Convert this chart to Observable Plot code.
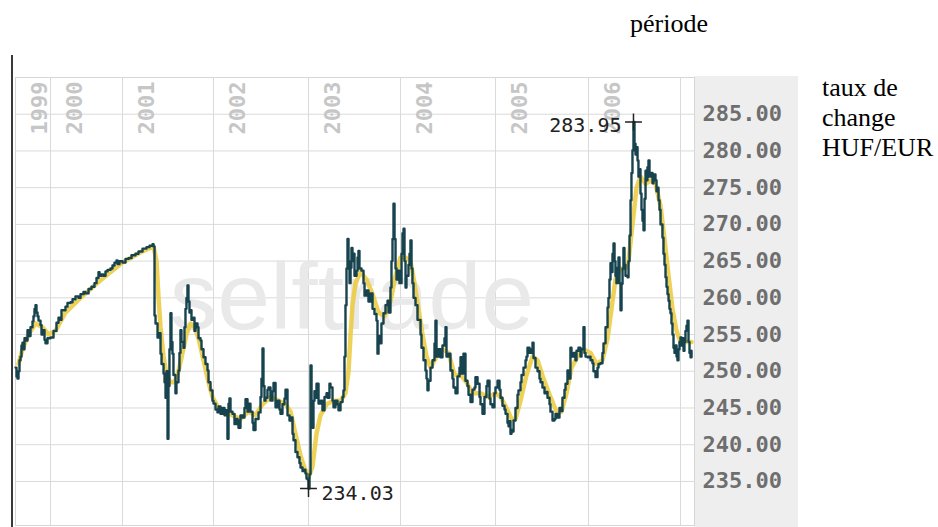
<!DOCTYPE html>
<html><head><meta charset="utf-8">
<script src="https://cdn.jsdelivr.net/npm/d3@7"></script>
<script src="https://cdn.jsdelivr.net/npm/@observablehq/plot@0.6"></script>
<style>
body{margin:0;background:#fff;}
#wrap{position:relative;width:938px;height:527px;overflow:hidden;}
#wrap svg{position:absolute;left:0;top:0;}
.lab{position:absolute;font-family:"Liberation Serif","Times New Roman",serif;font-size:26px;color:#000;line-height:30px;white-space:nowrap;}
</style></head><body>
<div id="wrap"></div>
<script>
// ---- data ----
const xTitle = "période";
const yTitle = ["taux de", "change", "HUF/EUR"];
const watermark = "selftrade";
const yearBreaks = [1999, 2000, 2001, 2002, 2003, 2004, 2005, 2006, 2007];
const yearLabels = [1999, 2000, 2001, 2002, 2003, 2004, 2005, 2006];
const yearGrid = [2000, 2001, 2002, 2003, 2004, 2005, 2006, 2007];
const yTicks = [235, 240, 245, 250, 255, 260, 265, 270, 275, 280, 285];
const yGrid = [235, 240, 245, 250, 255, 260, 265, 270, 275, 280, 285, 290];
const extremeT = [2006.489, 2003.000];
const extremeV = [283.95, 234.03];

// daily HUF/EUR rate [decimal year, rate]
const daily = [
[1999.000,250.5],[1999.029,249.3],[1999.057,249.0],[1999.086,250.0],[1999.114,251.5],[1999.143,252.0],[1999.171,253.5],[1999.200,253.9],[1999.229,253.0],[1999.257,254.5],[1999.286,254.2],[1999.343,255.6],[1999.371,254.8],[1999.429,256.0],[1999.486,256.8],[1999.514,257.5],[1999.543,258.5],[1999.571,259.0],[1999.600,258.0],[1999.629,257.5],[1999.657,256.9],[1999.714,256.3],[1999.743,255.0],[1999.771,255.6],[1999.829,254.3],[1999.857,253.8],[1999.914,254.5],
[2000.000,254.6],[2000.042,255.5],[2000.083,256.6],[2000.111,257.3],[2000.139,257.0],[2000.153,258.3],[2000.181,258.3],[2000.208,258.8],[2000.236,259.3],[2000.278,259.4],[2000.306,259.8],[2000.347,260.2],[2000.389,260.0],[2000.417,260.5],[2000.458,260.8],[2000.486,260.6],[2000.528,261.2],[2000.569,261.5],[2000.611,262.0],[2000.639,262.7],[2000.667,263.5],[2000.681,263.0],[2000.708,263.2],[2000.736,263.0],[2000.764,263.6],[2000.792,263.8],[2000.833,264.0],[2000.861,264.4],[2000.889,264.8],[2000.917,265.1],[2000.931,264.6],[2000.958,265.0],
[2001.000,264.8],[2001.033,265.3],[2001.066,265.4],[2001.099,265.8],[2001.143,266.0],[2001.176,266.3],[2001.220,266.7],[2001.264,266.9],[2001.297,267.1],[2001.330,267.3],[2001.341,267.0],[2001.352,257.6],[2001.363,256.5],[2001.385,254.6],[2001.396,255.2],[2001.418,252.4],[2001.429,251.0],[2001.451,249.7],[2001.462,248.5],[2001.473,246.4],[2001.484,250.0],[2001.495,240.8],[2001.505,248.0],[2001.516,253.0],[2001.527,257.9],[2001.538,254.0],[2001.549,252.4],[2001.560,249.5],[2001.582,247.0],[2001.593,248.5],[2001.615,250.1],[2001.626,252.5],[2001.637,255.6],[2001.648,254.0],[2001.670,253.2],[2001.681,256.0],[2001.692,258.5],[2001.703,260.0],[2001.714,261.7],[2001.725,259.5],[2001.736,258.0],[2001.747,258.3],[2001.758,257.0],[2001.780,257.3],[2001.791,255.5],[2001.802,256.5],[2001.824,256.0],[2001.835,254.5],[2001.857,254.2],[2001.868,253.0],[2001.890,251.9],[2001.912,251.0],[2001.934,250.1],[2001.945,248.5],[2001.967,247.4],[2001.989,246.0],
[2002.000,245.6],[2002.021,244.8],[2002.042,244.4],[2002.053,245.2],[2002.074,244.2],[2002.095,245.0],[2002.116,244.0],[2002.126,244.7],[2002.147,240.8],[2002.158,245.6],[2002.168,246.3],[2002.179,244.5],[2002.200,244.2],[2002.221,242.8],[2002.242,243.5],[2002.253,243.3],[2002.263,242.3],[2002.284,244.0],[2002.305,243.7],[2002.326,245.0],[2002.337,246.2],[2002.358,244.5],[2002.368,245.6],[2002.389,244.5],[2002.411,243.0],[2002.421,242.0],[2002.442,243.5],[2002.474,244.4],[2002.495,246.5],[2002.505,249.0],[2002.516,253.1],[2002.526,248.0],[2002.537,246.0],[2002.547,246.4],[2002.568,247.5],[2002.579,247.8],[2002.600,246.0],[2002.621,247.3],[2002.632,248.4],[2002.653,245.1],[2002.674,246.0],[2002.695,244.8],[2002.705,244.2],[2002.726,245.5],[2002.747,246.3],[2002.758,247.5],[2002.779,244.0],[2002.800,243.3],[2002.811,243.7],[2002.832,241.5],[2002.842,240.6],[2002.863,239.0],[2002.884,238.3],[2002.905,237.5],[2002.916,236.9],[2002.937,236.4],[2002.958,236.6],[2002.968,236.1],[2002.979,235.4],[2002.989,235.3],
[2003.000,234.03],[2003.011,236.0],[2003.022,250.8],[2003.033,244.0],[2003.043,242.3],[2003.054,246.0],[2003.065,247.3],[2003.076,246.4],[2003.087,248.3],[2003.109,245.6],[2003.130,246.0],[2003.152,244.7],[2003.174,246.5],[2003.196,247.0],[2003.207,246.4],[2003.228,248.3],[2003.239,247.8],[2003.261,246.0],[2003.272,245.1],[2003.293,246.0],[2003.315,245.5],[2003.326,244.7],[2003.348,245.8],[2003.370,246.5],[2003.380,247.4],[2003.391,252.0],[2003.402,259.0],[2003.413,264.0],[2003.424,268.0],[2003.435,265.0],[2003.446,262.0],[2003.457,264.1],[2003.467,266.8],[2003.478,265.0],[2003.489,266.0],[2003.500,263.0],[2003.522,263.7],[2003.533,265.5],[2003.543,266.4],[2003.554,264.0],[2003.576,263.7],[2003.598,262.0],[2003.609,260.3],[2003.630,261.0],[2003.652,259.5],[2003.674,260.6],[2003.696,258.5],[2003.717,257.8],[2003.739,256.9],[2003.750,252.4],[2003.761,254.8],[2003.783,253.8],[2003.793,256.5],[2003.815,257.9],[2003.837,259.0],[2003.859,259.6],[2003.870,258.0],[2003.891,261.4],[2003.902,265.0],[2003.913,268.0],[2003.924,272.8],[2003.935,268.0],[2003.946,264.0],[2003.957,262.5],[2003.978,263.7],[2003.989,262.0],
[2004.011,266.0],[2004.021,268.8],[2004.032,269.4],[2004.042,265.0],[2004.053,261.4],[2004.063,263.0],[2004.084,264.5],[2004.095,266.0],[2004.105,267.8],[2004.116,264.0],[2004.126,262.0],[2004.137,260.0],[2004.158,259.0],[2004.179,257.0],[2004.211,255.0],[2004.221,253.2],[2004.242,251.5],[2004.263,250.1],[2004.274,249.0],[2004.284,247.4],[2004.295,248.7],[2004.316,250.5],[2004.337,251.5],[2004.358,253.8],[2004.368,256.9],[2004.379,252.0],[2004.400,253.0],[2004.421,251.9],[2004.442,253.5],[2004.463,254.5],[2004.474,256.0],[2004.484,252.0],[2004.505,252.4],[2004.526,250.1],[2004.547,249.0],[2004.558,247.8],[2004.579,247.0],[2004.600,249.3],[2004.621,250.5],[2004.632,251.9],[2004.642,249.7],[2004.663,252.4],[2004.684,248.7],[2004.705,248.0],[2004.716,246.8],[2004.737,245.8],[2004.758,247.5],[2004.779,247.8],[2004.789,249.2],[2004.811,248.3],[2004.832,246.5],[2004.842,245.5],[2004.863,244.2],[2004.884,246.5],[2004.905,248.0],[2004.916,248.7],[2004.937,246.3],[2004.947,245.5],[2004.968,245.1],[2004.989,247.0],
[2005.000,247.8],[2005.022,248.7],[2005.043,247.5],[2005.054,246.4],[2005.075,245.3],[2005.097,244.8],[2005.108,244.2],[2005.129,243.0],[2005.140,242.5],[2005.151,243.2],[2005.161,241.5],[2005.172,242.0],[2005.183,241.8],[2005.194,243.3],[2005.215,245.0],[2005.237,246.8],[2005.247,247.4],[2005.269,248.5],[2005.280,249.5],[2005.301,250.5],[2005.323,251.5],[2005.333,252.0],[2005.344,253.2],[2005.366,252.5],[2005.387,253.0],[2005.398,253.9],[2005.409,251.8],[2005.430,250.5],[2005.452,250.0],[2005.473,249.0],[2005.484,248.5],[2005.505,247.8],[2005.527,247.0],[2005.548,247.2],[2005.559,246.4],[2005.581,245.5],[2005.591,244.5],[2005.613,243.3],[2005.634,243.5],[2005.645,244.2],[2005.667,243.7],[2005.688,245.0],[2005.699,244.6],[2005.720,246.4],[2005.742,247.5],[2005.753,248.3],[2005.774,250.1],[2005.785,249.0],[2005.806,253.2],[2005.817,252.0],[2005.839,252.5],[2005.860,251.5],[2005.871,252.8],[2005.892,253.2],[2005.914,252.0],[2005.925,253.0],[2005.946,256.0],[2005.957,252.5],[2005.968,252.0],[2005.989,251.9],
[2006.000,252.0],[2006.022,251.5],[2006.043,251.1],[2006.054,250.0],[2006.076,249.2],[2006.098,250.5],[2006.109,251.0],[2006.130,251.1],[2006.152,252.5],[2006.163,253.8],[2006.185,256.0],[2006.207,258.7],[2006.217,260.0],[2006.228,262.5],[2006.239,264.7],[2006.250,263.5],[2006.261,266.0],[2006.272,267.4],[2006.283,265.0],[2006.293,263.0],[2006.304,262.0],[2006.315,264.1],[2006.326,265.5],[2006.337,262.0],[2006.348,258.3],[2006.359,261.9],[2006.370,264.0],[2006.380,266.8],[2006.391,264.5],[2006.402,263.0],[2006.424,262.8],[2006.435,265.0],[2006.446,268.5],[2006.457,273.3],[2006.467,277.0],[2006.478,280.1],[2006.489,283.95],[2006.500,281.0],[2006.511,279.5],[2006.522,280.5],[2006.533,278.7],[2006.543,276.5],[2006.554,277.5],[2006.565,274.2],[2006.576,272.0],[2006.587,270.5],[2006.598,269.2],[2006.609,273.5],[2006.620,277.3],[2006.630,276.0],[2006.641,277.8],[2006.652,278.7],[2006.663,276.5],[2006.674,277.0],[2006.696,275.6],[2006.707,276.8],[2006.728,276.0],[2006.739,274.5],[2006.750,275.0],[2006.761,273.3],[2006.772,272.0],[2006.783,270.0],[2006.804,268.2],[2006.815,266.0],[2006.826,264.5],[2006.837,262.8],[2006.848,261.5],[2006.859,260.5],[2006.870,259.6],[2006.880,258.5],[2006.891,257.9],[2006.902,256.5],[2006.913,255.0],[2006.924,253.2],[2006.935,252.5],[2006.946,253.5],[2006.957,252.0],[2006.967,251.5],[2006.978,253.0],[2006.989,254.0],
[2007.000,254.6],[2007.011,253.5],[2007.022,254.5],[2007.033,252.8],[2007.043,254.0],[2007.054,255.5],[2007.065,256.2],[2007.076,256.9],[2007.087,254.0],[2007.098,252.5],[2007.109,251.9],[2007.120,252.8]
];

// moving average (yellow) [decimal year, rate]
const movingAvg = [
[1999.086,251.0],[1999.200,253.0],[1999.371,255.0],[1999.571,256.5],[1999.771,256.0],[1999.943,255.0],[2000.069,255.5],[2000.208,258.0],[2000.417,260.0],[2000.625,261.8],[2000.833,263.5],[2001.000,264.8],[2001.198,266.2],[2001.341,267.0],[2001.374,265.0],[2001.396,260.0],[2001.418,256.0],[2001.451,252.0],[2001.484,249.5],[2001.527,248.5],[2001.571,248.5],[2001.615,250.0],[2001.659,252.5],[2001.703,255.0],[2001.747,256.5],[2001.791,256.0],[2001.835,254.5],[2001.890,251.5],[2001.945,248.5],[2001.989,246.5],[2002.053,245.0],[2002.126,244.5],[2002.200,244.0],[2002.284,243.5],[2002.368,244.5],[2002.442,244.0],[2002.516,245.5],[2002.600,246.5],[2002.684,246.0],[2002.758,245.5],[2002.811,244.5],[2002.863,241.5],[2002.916,238.5],[2002.968,236.5],[2003.000,235.5],[2003.043,237.0],[2003.087,241.5],[2003.130,244.0],[2003.196,245.5],[2003.272,246.0],[2003.348,246.0],[2003.402,247.0],[2003.435,250.0],[2003.457,255.0],[2003.478,259.0],[2003.511,262.0],[2003.565,263.5],[2003.630,262.5],[2003.696,260.5],[2003.761,258.0],[2003.826,257.5],[2003.891,259.5],[2003.946,263.0],[2004.000,265.5],[2004.053,265.5],[2004.105,265.0],[2004.147,262.0],[2004.189,258.5],[2004.232,255.0],[2004.274,252.0],[2004.316,250.5],[2004.379,252.0],[2004.442,253.0],[2004.505,252.5],[2004.568,249.5],[2004.632,249.5],[2004.695,248.5],[2004.758,247.0],[2004.842,247.0],[2004.926,246.5],[2005.000,247.0],[2005.054,246.5],[2005.118,245.0],[2005.172,243.5],[2005.215,243.5],[2005.269,246.0],[2005.333,249.5],[2005.398,252.0],[2005.452,251.5],[2005.516,249.0],[2005.591,246.5],[2005.656,244.5],[2005.710,244.5],[2005.763,247.0],[2005.817,250.5],[2005.882,252.0],[2005.946,253.0],[2006.022,252.5],[2006.087,251.0],[2006.152,251.5],[2006.207,254.5],[2006.250,258.5],[2006.293,262.5],[2006.348,264.0],[2006.402,264.0],[2006.435,265.0],[2006.478,270.0],[2006.522,275.0],[2006.565,276.5],[2006.620,275.5],[2006.674,276.0],[2006.728,275.5],[2006.783,272.5],[2006.826,268.0],[2006.870,263.0],[2006.913,258.5],[2006.957,255.5],[2007.000,254.0],[2007.065,254.0],[2007.120,254.0]
];

// ---- layout ----
const W = 938, H = 527;
const mL = 15, mR = 244, mT = 77, mB = 2;
const yearPx = [15, 50, 122, 213, 308, 400, 495, 588, 680];

const dailyData = daily.map(([t, v]) => ({t, v}));
const maData = movingAvg.map(([t, v]) => ({t, v}));
const extremes = extremeT.map((t, i) => ({t, v: extremeV[i], label: extremeV[i].toFixed(2)}));

const mono = "'DejaVu Sans Mono', 'Liberation Mono', monospace";

const grayPanel = () => {
  const g = d3.create("svg:g");
  g.append("rect").attr("x", W - mR).attr("y", mT - 1)
    .attr("width", 104).attr("height", H - mT + 1).attr("fill", "#eeeeee");
  return g.node();
};
const leftAxisLine = () => {
  const g = d3.create("svg:g");
  g.append("line").attr("x1", mL - 3).attr("x2", mL - 3).attr("y1", 55).attr("y2", H)
    .attr("stroke", "#3a3a3a").attr("stroke-width", 2);
  return g.node();
};

const chart = Plot.plot({
  width: W, height: H,
  marginLeft: mL, marginRight: mR, marginTop: mT, marginBottom: mB,
  style: {background: "transparent", overflow: "visible"},
  x: {type: "linear", domain: yearBreaks, range: yearPx, axis: null},
  y: {domain: [229, 290], axis: null},
  marks: [
    grayPanel,
    Plot.gridY(yGrid, {stroke: "#dadada", strokeOpacity: 1}),
    Plot.gridX(yearGrid, {stroke: "#dadada", strokeOpacity: 1}),
    Plot.frame({stroke: "#d6d6d6"}),
    Plot.text([watermark], {frameAnchor: "middle", text: d => d, dx: -3, dy: -3,
      fontSize: 95, fontFamily: "'Liberation Sans', Arial, sans-serif", fill: "#e9e9e9"}),
    Plot.text(yearLabels, {x: d => d, text: d => String(d), frameAnchor: "top",
      rotate: -90, textAnchor: "end", dx: 16, dy: 4,
      fontFamily: mono, fontSize: 22, fontWeight: "bold", fill: "#c6c6c6"}),
    Plot.axisY(yTicks, {anchor: "right", tickSize: 0, tickPadding: 8, label: null,
      tickFormat: d => d.toFixed(2), fontFamily: mono, fontSize: 22, fontWeight: "bold", color: "#6e6e6e"}),
    Plot.line(maData, {x: "t", y: "v", stroke: "#ebc93a", strokeWidth: 4.5, strokeOpacity: 0.85}),
    Plot.line(dailyData, {x: "t", y: "v", curve: "step-after", stroke: "#17434f", strokeWidth: 2.4}),
    Plot.dot(extremes, {x: "t", y: "v", symbol: "plus", r: 5.5, stroke: "#222", strokeWidth: 1.5}),
    Plot.text([extremes[0]], {x: "t", y: "v", text: "label", textAnchor: "end", dx: -12, dy: 4,
      fontFamily: mono, fontSize: 20, fill: "#222"}),
    Plot.text([extremes[1]], {x: "t", y: "v", text: "label", textAnchor: "start", dx: 13, dy: 5,
      fontFamily: mono, fontSize: 20, fill: "#222"}),
    leftAxisLine
  ]
});

const wrap = document.getElementById("wrap");
wrap.appendChild(chart);
const xl = document.createElement("div");
xl.className = "lab"; xl.style.left = "630px"; xl.style.top = "9px";
xl.textContent = xTitle;
wrap.appendChild(xl);
const yl = document.createElement("div");
yl.className = "lab"; yl.style.left = "822px"; yl.style.top = "73px";
yl.innerHTML = yTitle.join("<br>");
wrap.appendChild(yl);
</script>
</body></html>
